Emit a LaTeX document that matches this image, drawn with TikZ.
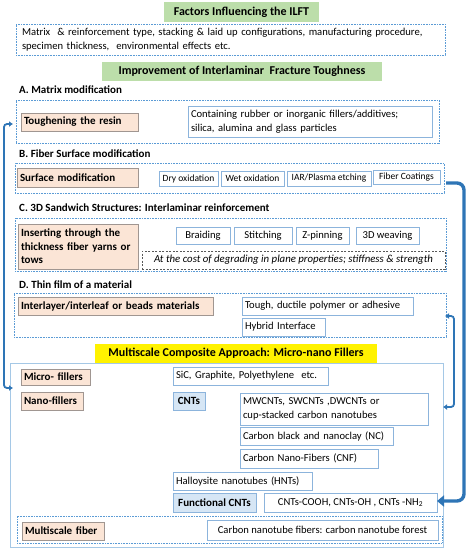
\documentclass[tikz,border=0pt]{standalone}
\usepackage{fontspec}
\setmainfont{Carlito}
\usetikzlibrary{arrows.meta}
\definecolor{gfill}{RGB}{188,222,170}
\definecolor{peach}{RGB}{251,229,214}
\definecolor{peachdraw}{RGB}{160,150,145}
\definecolor{dotblue}{RGB}{91,155,213}
\definecolor{boxblue}{RGB}{140,180,220}
\definecolor{bigblue}{RGB}{165,200,230}
\definecolor{cntfill}{RGB}{214,230,245}
\definecolor{arrblue}{RGB}{46,117,182}
\newcommand\mybox[7]{%
  \pgfmathsetmacro\bw{#4-#2}%
  \pgfmathsetmacro\bh{#5-#3}%
  \pgfmathsetmacro\tw{#4-#2-6}%
  \node[#6,minimum width=\bw pt,minimum height=\bh pt,anchor=north west] (#1) at (#2,#3) {#7};}
\tikzset{
  base/.style={inner xsep=2pt,inner ysep=1pt,outer sep=0pt,font=\fontsize{10.6}{13.8}\selectfont},
  lt/.style={text width=\tw pt,align=left,inner xsep=3pt},
  dotbox/.style={base,draw=dotblue,line width=0.7pt,dash pattern=on 0.8pt off 0.8pt},
  bluebox/.style={base,draw=boxblue,line width=0.8pt,fill=white},
  smallbox/.style={bluebox,font=\fontsize{9.5}{11}\selectfont},
  peachbox/.style={base,draw=peachdraw,line width=0.8pt,fill=peach,font=\fontsize{11}{13.5}\selectfont\bfseries},
  cntbox/.style={base,draw=boxblue,line width=0.8pt,fill=cntfill,font=\fontsize{11}{14}\selectfont\bfseries},
  greenbox/.style={base,fill=gfill,font=\fontsize{12}{14}\selectfont\bfseries},
  yellowbox/.style={base,fill=yellow,font=\fontsize{12}{14}\selectfont\bfseries},
  costbox/.style={base,draw=black!65,line width=0.6pt,dash pattern=on 2pt off 1.5pt,font=\fontsize{10.8}{14}\selectfont\itshape},
  bigbox/.style={base,draw=bigblue,line width=0.9pt},
  head/.style={inner sep=0pt,anchor=west,font=\fontsize{11}{13}\selectfont\bfseries},
  arrS/.style={draw=arrblue,line width=1.8pt,rounded corners=3pt,{Latex[length=4pt,width=6pt]}-{Latex[length=4pt,width=6pt]}},
  arrB/.style={draw=arrblue,line width=3.4pt,rounded corners=7pt,-{Triangle[length=7pt,width=11pt]}}
}
\begin{document}
\begin{tikzpicture}[x=1pt,y=-1pt]
\useasboundingbox[fill=white] (0,0) rectangle (470,550);
% top
\mybox{t1}{164}{2}{319}{22}{greenbox}{Factors Influencing the ILFT}
\mybox{b1}{16}{24}{439}{55}{dotbox,lt,inner xsep=6pt}{Matrix\ \ \& reinforcement type, stacking \& laid up configurations, manufacturing procedure,\\ specimen thickness,\ \ environmental effects etc.}
\mybox{t2}{102}{62}{382}{81}{greenbox}{Improvement of Interlaminar\ \ Fracture Toughness}
% A
\node[head] (hA) at (19,90) {A. Matrix modification};
\mybox{boxA}{16}{100}{439}{143}{dotbox}{}
\mybox{tough}{21}{113}{138}{131}{peachbox,lt}{Toughening the resin}
\mybox{contain}{188}{106}{432}{137}{bluebox,lt}{Containing rubber or inorganic fillers/additives;\\ silica, alumina and glass particles}
% B
\node[head] (hB) at (19,154) {B. Fiber Surface modification};
\mybox{boxB}{15}{163}{444}{193}{dotbox}{}
\mybox{surf}{17}{168}{138}{187}{peachbox,lt}{Surface modification}
\mybox{dry}{159}{171}{218}{186}{smallbox}{Dry oxidation}
\mybox{wet}{221}{171}{284}{186}{smallbox}{Wet oxidation}
\mybox{iar}{287}{171}{371}{186}{smallbox}{IAR/Plasma etching}
\mybox{coat}{373}{170}{440}{184}{smallbox}{Fiber Coatings}
% C
\node[head] (hC) at (19,208) {C. 3D Sandwich Structures: Interlaminar reinforcement};
\mybox{boxC}{15}{218}{446}{271}{dotbox}{}
\mybox{insert}{18}{224}{138}{269}{peachbox,lt}{Inserting through the\\ thickness fiber yarns or\\ tows}
\mybox{braid}{176}{227}{230}{244}{bluebox}{Braiding}
\mybox{stitch}{234}{227}{292}{244}{bluebox}{Stitching}
\mybox{zpin}{296}{227}{349}{244}{bluebox}{Z-pinning}
\mybox{weave}{356}{227}{419}{244}{bluebox}{3D weaving}
\mybox{cost}{142}{251}{445}{269}{costbox}{At the cost of degrading in plane properties; stiffness \& strength}
% D
\node[head] (hD) at (19,285) {D. Thin film of a material};
\mybox{boxD}{14}{293}{446}{337}{dotbox}{}
\mybox{inter}{18}{297}{213}{315}{peachbox,lt}{Interlayer/interleaf or beads materials}
\mybox{toughd}{242}{297}{413}{315}{bluebox,lt}{Tough, ductile polymer or adhesive}
\mybox{hybrid}{242}{318}{325}{336}{bluebox,lt}{Hybrid Interface}
% Multiscale
\mybox{big}{10}{363}{443}{547}{bigbox}{}
\mybox{yel}{95}{344}{377}{363}{yellowbox}{Multiscale Composite Approach: Micro-nano Fillers}
\mybox{micro}{21}{369}{90}{385}{peachbox,lt}{Micro- fillers}
\mybox{sic}{173}{367}{328}{385}{bluebox,lt}{SiC, Graphite, Polyethylene\ \ etc.}
\mybox{nano}{21}{392}{83}{410}{peachbox,lt}{Nano-fillers}
\mybox{cnts}{173}{392}{205}{410}{cntbox}{CNTs}
\mybox{mw}{240}{393}{428}{425}{bluebox,lt}{MWCNTs, SWCNTs ,DWCNTs or\\ cup-stacked carbon nanotubes}
\mybox{cb}{240}{427}{393}{445}{bluebox,lt}{Carbon black and nanoclay (NC)}
\mybox{cnf}{240}{449}{378}{468}{bluebox,lt}{Carbon Nano-Fibers (CNF)}
\mybox{hal}{173}{472}{312}{490}{bluebox,lt}{Halloysite nanotubes (HNTs)}
\mybox{fcnt}{173}{493}{256}{512}{cntbox}{Functional CNTs}
\mybox{cooh}{264}{493}{437}{512}{bluebox}{CNTs-COOH, CNTs-OH , CNTs -NH\textsubscript{2}}
\mybox{boxM}{17}{516}{442}{543}{dotbox}{}
\mybox{mfib}{22}{522}{104}{540}{peachbox,lt}{Multiscale fiber}
\mybox{cnfor}{207}{520}{438}{540}{bluebox}{Carbon nanotube fibers: carbon nanotube forest}
% arrows
\coordinate (la1) at (13,124);
\coordinate (la2) at (13,388);
\draw[arrS] (la1) -- (4,124) -- (4,388) -- (la2);
\coordinate (rs1) at (445,316);
\coordinate (rs2) at (443,407);
\draw[arrS] (rs1) -- (454,316) -- (454,407) -- (rs2);
\coordinate (rb1) at (446,183);
\coordinate (rb2) at (437,501);
\draw[arrB] (rb1) -- (464,183) -- (464,501) -- (rb2);
\end{tikzpicture}
\end{document}
